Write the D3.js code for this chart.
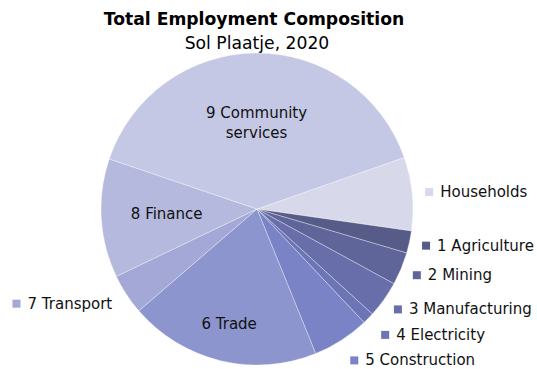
<!DOCTYPE html>
<html>
<head>
<meta charset="utf-8">
<script src="https://cdn.jsdelivr.net/npm/d3@7"></script>
<style>
  html, body { margin: 0; padding: 0; background: #fff; }
  svg { display: block; font-family: "DejaVu Sans", Verdana, sans-serif; }
</style>
</head>
<body>
<svg id="chart" width="537" height="369"></svg>
<script>
// Sectors of employment, clockwise from Households
const categories = ["Households", "1 Agriculture", "2 Mining", "3 Manufacturing", "4 Electricity",
                    "5 Construction", "6 Trade", "7 Transport", "8 Finance", "9 Community services"];
// Share of total employment (%)
const shares = [7.6, 2.3, 3.4, 3.8, 1.2, 5.9, 19.8, 4.2, 12.3, 39.4];
const colors = ["#d7d9eb", "#565b88", "#5f6598", "#676ea9", "#6d75b6",
                "#7a83c5", "#8c95cd", "#a3a8d6", "#b4b9dd", "#c5c8e4"];
// Sectors labelled inside their slice; the rest get an outside label with a key
const insideLabels = ["6 Trade", "8 Finance", "9 Community services"];

const title = "Total Employment Composition";
const subtitle = "Sol Plaatje, 2020";

const svg = d3.select("#chart");
const cx = 257, cy = 209, radius = 156;

svg.append("text").attr("x", 254).attr("y", 25).attr("text-anchor", "middle")
  .attr("font-weight", "bold").attr("font-size", 17.2).attr("fill", "#000").text(title);
svg.append("text").attr("x", 257).attr("y", 49).attr("text-anchor", "middle")
  .attr("font-size", 17.2).attr("fill", "#000").text(subtitle);

const data = categories.map((c, i) => ({ name: c, value: shares[i], color: colors[i] }));

const pie = d3.pie().sort(null).value(d => d.value)
  .startAngle(70.7 * Math.PI / 180).endAngle(70.7 * Math.PI / 180 + 2 * Math.PI);
const arcs = pie(data);
const arc = d3.arc().innerRadius(0).outerRadius(radius);

const g = svg.append("g").attr("transform", `translate(${cx},${cy})`);
g.selectAll("path.slice").data(arcs).join("path")
  .attr("class", "slice")
  .attr("d", arc)
  .attr("fill", d => d.data.color)
  .attr("stroke", "rgba(255,255,255,0.55)")
  .attr("stroke-width", 0.6);

// Inside labels, each at its own distance from the centre
const ring = k => d3.arc().innerRadius(radius * k).outerRadius(radius * k);
const innerPos = {
  "6 Trade": ring(0.76),
  "8 Finance": ring(0.58),
  "9 Community services": ring(0.55)
};
arcs.filter(d => insideLabels.includes(d.data.name)).forEach(d => {
  const [x, y] = innerPos[d.data.name].centroid(d);
  const m = d.data.name.match(/^(\d+ \S+)\s*(.*)$/);
  const lines = m[2] ? [m[1], m[2]] : [m[1]];
  const t = g.append("text").attr("text-anchor", "middle").attr("font-size", 15).attr("fill", "#111");
  lines.forEach((ln, i) => {
    t.append("tspan").attr("x", x)
      .attr("y", y + 5 + (i - (lines.length - 1) / 2) * 20)
      .text(ln);
  });
});

// Outside labels with a colour key, pushed apart so they don't overlap
const labelR = 173, minGap = 25.5, key = 8;
let prevY = -Infinity;
arcs.filter(d => !insideLabels.includes(d.data.name)).forEach(d => {
  const a = (d.startAngle + d.endAngle) / 2;
  const sx = Math.sin(a), sy = -Math.cos(a);
  let r = labelR;
  let y = sy * r;
  const right = sx >= 0;
  if (right && y < prevY + minGap && sy > 0) {
    y = prevY + minGap;
    r = y / sy;
  }
  if (right) prevY = y;
  if (right) {
    const x = sx * r - 4;
    g.append("rect").attr("x", x).attr("y", y - key / 2).attr("width", key).attr("height", key)
      .attr("fill", d.data.color);
    g.append("text").attr("x", x + key + 7).attr("y", y + 5).attr("font-size", 15).attr("fill", "#111")
      .text(d.data.name);
  } else {
    const x = sx * r;
    const t = g.append("text").attr("x", x).attr("y", y + 5).attr("text-anchor", "end")
      .attr("font-size", 15).attr("fill", "#111").text(d.data.name);
    const w = t.node().getComputedTextLength();
    g.append("rect").attr("x", x - w - 7 - key).attr("y", y - key / 2).attr("width", key).attr("height", key)
      .attr("fill", d.data.color);
  }
});
</script>
</body>
</html>
